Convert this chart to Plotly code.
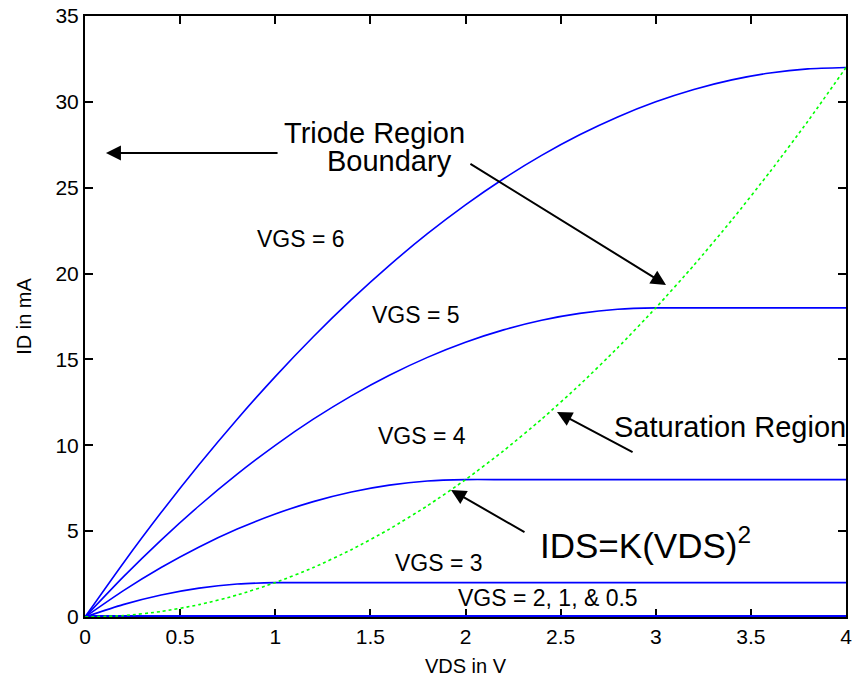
import plotly.graph_objects as go

# ---- data ----
vds = [0.0, 0.2, 0.4, 0.6, 0.8, 1.0, 1.2, 1.4, 1.6, 1.8, 2.0,
       2.2, 2.4, 2.6, 2.8, 3.0, 3.2, 3.4, 3.6, 3.8, 4.0]
id_vgs6 = [0, 3.12, 6.08, 8.88, 11.52, 14.0, 16.32, 18.48, 20.48, 22.32, 24.0,
           25.52, 26.88, 28.08, 29.12, 30.0, 30.72, 31.28, 31.68, 31.92, 32.0]
id_vgs5 = [0, 2.32, 4.48, 6.48, 8.32, 10.0, 11.52, 12.88, 14.08, 15.12, 16.0,
           16.72, 17.28, 17.68, 17.92, 18.0, 18.0, 18.0, 18.0, 18.0, 18.0]
id_vgs4 = [0, 1.52, 2.88, 4.08, 5.12, 6.0, 6.72, 7.28, 7.68, 7.92, 8.0,
           8.0, 8.0, 8.0, 8.0, 8.0, 8.0, 8.0, 8.0, 8.0, 8.0]
id_vgs3 = [0, 0.72, 1.28, 1.68, 1.92, 2.0, 2.0, 2.0, 2.0, 2.0, 2.0,
           2.0, 2.0, 2.0, 2.0, 2.0, 2.0, 2.0, 2.0, 2.0, 2.0]
id_vgs_low = [0, 0, 0, 0, 0, 0, 0, 0, 0, 0, 0,
              0, 0, 0, 0, 0, 0, 0, 0, 0, 0]
id_boundary = [0, 0.08, 0.32, 0.72, 1.28, 2.0, 2.88, 3.92, 5.12, 6.48, 8.0,
               9.68, 11.52, 13.52, 15.68, 18.0, 20.48, 23.12, 25.92, 28.88, 32.0]

x_ticks = [0, 0.5, 1, 1.5, 2, 2.5, 3, 3.5, 4]
x_tick_labels = ["0", "0.5", "1", "1.5", "2", "2.5", "3", "3.5", "4"]
y_ticks = [0, 5, 10, 15, 20, 25, 30, 35]
y_tick_labels = ["0", "5", "10", "15", "20", "25", "30", "35"]

FONT = "Liberation Sans, Arial, sans-serif"
BLUE = "#0000FF"
GREEN = "#00FF00"

fig = go.Figure()
for ys in [id_vgs_low, id_vgs_low, id_vgs_low]:
    fig.add_trace(go.Scatter(x=vds, y=ys, mode="lines",
                             line=dict(color=BLUE, width=3.5), hoverinfo="skip"))
for ys in [id_vgs3, id_vgs4, id_vgs5, id_vgs6]:
    fig.add_trace(go.Scatter(x=vds, y=ys, mode="lines",
                             line=dict(color=BLUE, width=1.6, shape="spline", smoothing=0.6),
                             hoverinfo="skip"))
fig.add_trace(go.Scatter(x=vds, y=id_boundary, mode="lines",
                         line=dict(color=GREEN, width=1.6, dash="dot", shape="spline", smoothing=0.6),
                         hoverinfo="skip"))

texts = [
    ("Triode Region", 1.524, 28.19, 29),
    ("Boundary", 1.600, 26.56, 29),
    ("VGS = 6", 1.133, 22.04, 23),
    ("VGS = 5", 1.742, 17.59, 23),
    ("VGS = 4", 1.769, 10.54, 23),
    ("VGS = 3", 1.861, 3.12, 23),
    ("VGS = 2, 1, & 0.5", 2.434, 1.08, 23),
    ("Saturation Region", 3.390, 11.04, 29),
    ("IDS=K(VDS)<sup>2</sup>", 2.946, 4.30, 35),
]
annotations = []
for t, x, y, s in texts:
    annotations.append(dict(text=t, x=x, y=y, xref="x", yref="y", showarrow=False,
                            xanchor="center", yanchor="middle",
                            font=dict(family=FONT, size=s, color="black")))

arrows = [
    # (head x, head y, tail x, tail y)
    (0.110, 27.02, 1.02, 27.02),
    (3.054, 19.34, 2.018, 26.44),
    (2.481, 11.94, 2.886, 9.55),
    (1.924, 7.40, 2.318, 4.89),
]
for hx, hy, tx, ty in arrows:
    annotations.append(dict(text="", x=hx, y=hy, ax=tx, ay=ty, xref="x", yref="y",
                            axref="x", ayref="y", showarrow=True, arrowhead=2,
                            arrowsize=1.5, arrowwidth=2, arrowcolor="black",
                            standoff=0, startstandoff=0))

# the page body adds an 8px offset, so the figure is 8px smaller on each side
fig.update_layout(
    width=852, height=670,
    margin=dict(l=77, r=14, t=8, b=61),
    paper_bgcolor="white", plot_bgcolor="white",
    showlegend=False,
    font=dict(family=FONT, size=21, color="black"),
    annotations=annotations,
    xaxis=dict(range=[0, 4], tickvals=x_ticks, ticktext=x_tick_labels,
               showgrid=False, zeroline=False, showline=True, linecolor="black",
               linewidth=2, mirror="ticks", ticks="inside", ticklen=8, tickwidth=1.5,
               tickcolor="black", layer="below traces", automargin=False,
               ticklabeloverflow="allow",
               tickfont=dict(family=FONT, size=21, color="black"),
               title=dict(text="VDS in V", font=dict(family=FONT, size=20), standoff=12)),
    yaxis=dict(range=[0, 35], tickvals=y_ticks, ticktext=y_tick_labels,
               showgrid=False, zeroline=False, showline=True, linecolor="black",
               linewidth=2, mirror="ticks", ticks="inside", ticklen=8, tickwidth=1.5,
               tickcolor="black", layer="below traces", automargin=False,
               ticklabeloverflow="allow",
               tickfont=dict(family=FONT, size=21, color="black"),
               title=dict(text="ID in mA", font=dict(family=FONT, size=20), standoff=18)),
)

fig.write_html("out.html")
